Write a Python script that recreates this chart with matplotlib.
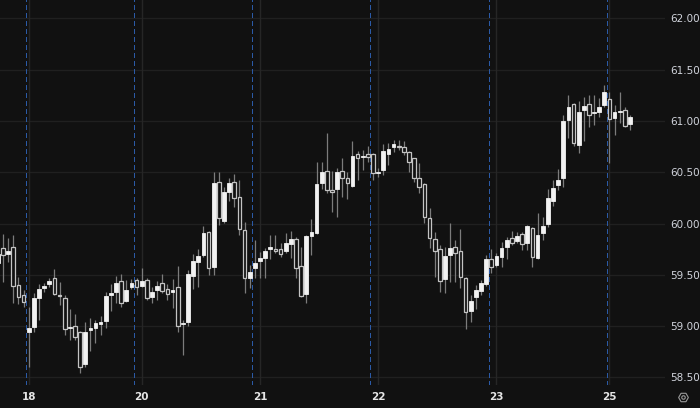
import numpy as np
import matplotlib
matplotlib.use('Agg')
import matplotlib.pyplot as plt
from matplotlib.lines import Line2D

# hourly candles
opens = [59.62, 59.76, 59.70, 59.77, 59.40, 59.30, 58.94, 58.99, 59.27, 59.37,
         59.41, 59.47, 59.30, 59.27, 58.98, 59.00, 58.94, 58.63, 58.96, 58.98,
         59.02, 59.05, 59.30, 59.33, 59.44, 59.25, 59.38, 59.45, 59.39, 59.45,
         59.28, 59.35, 59.42, 59.36, 59.33, 59.38, 59.02, 59.04, 59.49, 59.63,
         59.69, 59.92, 59.58, 60.41, 60.03, 60.31, 60.41, 60.26, 59.94, 59.47,
         59.57, 59.64, 59.66, 59.75, 59.75, 59.75, 59.73, 59.80, 59.85, 59.59,
         59.31, 59.88, 59.91, 60.40, 60.51, 60.33, 60.34, 60.51, 60.44, 60.37,
         60.68, 60.65, 60.68, 60.68, 60.49, 60.52, 60.68, 60.75, 60.76, 60.75,
         60.70, 60.64, 60.44, 60.39, 60.05, 59.85, 59.75, 59.46, 59.69, 59.77,
         59.73, 59.47, 59.15, 59.28, 59.34, 59.41, 59.65, 59.60, 59.67, 59.77,
         59.86, 59.83, 59.90, 59.81, 59.96, 59.66, 59.91, 60.00, 60.22, 60.38,
         60.44, 61.01, 61.17, 60.77, 61.11, 61.17, 61.08, 61.09, 61.16, 61.21,
         61.03, 61.09, 61.11, 60.97]
highs = [59.76, 59.90, 59.86, 59.89, 59.48, 59.35, 59.19, 59.32, 59.41, 59.42,
         59.47, 59.56, 59.43, 59.30, 59.17, 59.12, 58.95, 59.04, 59.08, 59.06,
         59.10, 59.33, 59.41, 59.49, 59.51, 59.45, 59.46, 59.47, 59.57, 59.47,
         59.38, 59.44, 59.51, 59.41, 59.46, 59.59, 59.06, 59.55, 59.70, 59.75,
         59.98, 59.93, 60.50, 60.50, 60.36, 60.44, 60.48, 60.42, 60.02, 59.60,
         59.84, 59.72, 59.76, 59.89, 59.89, 59.81, 59.91, 59.93, 59.87, 59.77,
         59.89, 60.04, 60.60, 60.60, 60.88, 60.51, 60.54, 60.64, 60.50, 60.80,
         60.71, 60.72, 60.76, 60.69, 60.54, 60.78, 60.79, 60.81, 60.81, 60.80,
         60.71, 60.64, 60.59, 60.40, 60.15, 59.92, 59.79, 59.77, 60.01, 59.84,
         59.95, 59.48, 59.30, 59.40, 59.45, 59.69, 59.75, 59.71, 59.82, 59.87,
         59.93, 59.92, 59.92, 59.99, 59.97, 60.10, 60.06, 60.34, 60.42, 60.53,
         61.06, 61.25, 61.18, 61.19, 61.23, 61.25, 61.25, 61.22, 61.35, 61.28,
         61.16, 61.28, 61.14, 61.06]
lows = [59.55, 59.43, 59.63, 59.23, 59.22, 59.19, 58.60, 58.94, 59.06, 59.33,
        59.38, 59.30, 59.21, 58.91, 58.87, 58.87, 58.54, 58.60, 58.76, 58.84,
        58.91, 58.98, 59.15, 59.23, 59.19, 59.24, 59.36, 59.30, 59.38, 59.26,
        59.23, 59.26, 59.32, 59.26, 59.18, 58.94, 58.72, 59.00, 59.36, 59.38,
        59.67, 59.50, 59.50, 59.99, 60.01, 60.22, 60.16, 59.89, 59.32, 59.37,
        59.47, 59.47, 59.47, 59.65, 59.71, 59.67, 59.71, 59.66, 59.47, 59.28,
        59.23, 59.69, 59.90, 60.34, 60.30, 60.11, 60.06, 60.26, 60.24, 60.36,
        60.42, 60.52, 60.60, 60.42, 60.45, 60.47, 60.57, 60.70, 60.72, 60.67,
        60.50, 60.41, 60.30, 60.01, 59.76, 59.48, 59.33, 59.32, 59.43, 59.43,
        59.37, 58.97, 59.04, 59.17, 59.30, 59.39, 59.52, 59.58, 59.58, 59.65,
        59.79, 59.81, 59.74, 59.74, 59.58, 59.65, 59.84, 59.97, 60.17, 60.33,
        60.36, 60.83, 60.76, 60.69, 60.80, 60.94, 60.96, 61.04, 61.14, 60.59,
        60.86, 60.98, 60.94, 60.91]
closes = [59.70, 59.69, 59.73, 59.39, 59.285, 59.24, 58.98, 59.27, 59.36, 59.39,
          59.44, 59.31, 59.29, 58.97, 58.99, 58.89, 58.60, 58.94, 58.98, 59.03,
          59.04, 59.29, 59.32, 59.42, 59.23, 59.35, 59.42, 59.38, 59.44, 59.27,
          59.33, 59.39, 59.34, 59.31, 59.35, 59.00, 59.03, 59.51, 59.64, 59.68,
          59.91, 59.57, 60.40, 60.05, 60.31, 60.40, 60.25, 59.95, 59.47, 59.53,
          59.62, 59.66, 59.73, 59.77, 59.73, 59.70, 59.81, 59.85, 59.57, 59.29,
          59.88, 59.92, 60.39, 60.50, 60.33, 60.31, 60.50, 60.44, 60.40, 60.66,
          60.64, 60.65, 60.65, 60.49, 60.50, 60.71, 60.73, 60.78, 60.75, 60.70,
          60.60, 60.44, 60.36, 60.06, 59.86, 59.73, 59.44, 59.68, 59.76, 59.71,
          59.48, 59.14, 59.25, 59.35, 59.42, 59.65, 59.58, 59.68, 59.76, 59.84,
          59.81, 59.88, 59.80, 59.98, 59.67, 59.89, 59.98, 60.25, 60.35, 60.42,
          61.00, 61.14, 60.79, 61.09, 61.15, 61.06, 61.09, 61.14, 61.28, 61.02,
          61.09, 61.10, 60.95, 61.04]

# first candle of each session, and the day labels on the time axis
session_starts = [6, 27, 50, 73, 96, 119]
day_ticks = [6, 28, 51, 74, 97, 119]
day_labels = ['18', '20', '21', '22', '23', '25']
price_ticks = [58.5, 59.0, 59.5, 60.0, 60.5, 61.0, 61.5, 62.0]

bg = '#111111'
fig = plt.figure(figsize=(7, 4.08), dpi=100, facecolor=bg)
ax = fig.add_axes([0, 0.0564, 0.95, 0.9436], facecolor=bg)

o = np.array(opens)
h = np.array(highs)
l = np.array(lows)
c = np.array(closes)
idx = np.arange(len(o))
up = c >= o

ax.vlines(idx, l, h, color='#7c7c7c', lw=0.9, zorder=3)

bottom = np.minimum(o, c)
height = np.maximum(np.abs(c - o), 0.008)
ax.bar(idx[up], height[up], bottom=bottom[up], width=0.72,
       color='#f2f2f2', edgecolor='#f2f2f2', lw=0.6, zorder=4)
ax.bar(idx[~up], height[~up], bottom=bottom[~up], width=0.72,
       color=bg, edgecolor='#c4c4c4', lw=0.9, zorder=4)

for p in price_ticks:
    ax.axhline(p, color='#202020', lw=1, zorder=1)
for d in day_ticks:
    ax.axvline(d, color='#262626', lw=1, zorder=1)
for s in session_starts:
    ax.axvline(s - 0.5, color='#2b5aa6', lw=0.75, ls=(0, (4, 3)),
               antialiased=False, zorder=2)

ax.set_xlim(0.42, 129.8)
ax.set_ylim(58.427, 62.179)

ax.yaxis.tick_right()
ax.set_yticks(price_ticks)
ax.set_yticklabels(['%.2f' % p for p in price_ticks])
ax.set_xticks(day_ticks)
ax.set_xticklabels(day_labels, fontweight='bold')
ax.tick_params(axis='y', length=0, pad=4, labelsize=7.5, labelcolor='#d1d4dc')
ax.tick_params(axis='x', length=0, pad=5, labelsize=7.5, labelcolor='#e6e6e6')
for sp in ax.spines.values():
    sp.set_visible(False)

# settings icon in the corner
fig.add_artist(Line2D([0.976], [0.027], marker='H', ms=7, mfc='none', mec='#9a9a9a',
                      mew=0.8, transform=fig.transFigure))
fig.add_artist(Line2D([0.976], [0.027], marker='o', ms=2.5, mfc='none', mec='#9a9a9a',
                      mew=0.8, transform=fig.transFigure))

fig.savefig('out.png', dpi=100, facecolor=bg)
